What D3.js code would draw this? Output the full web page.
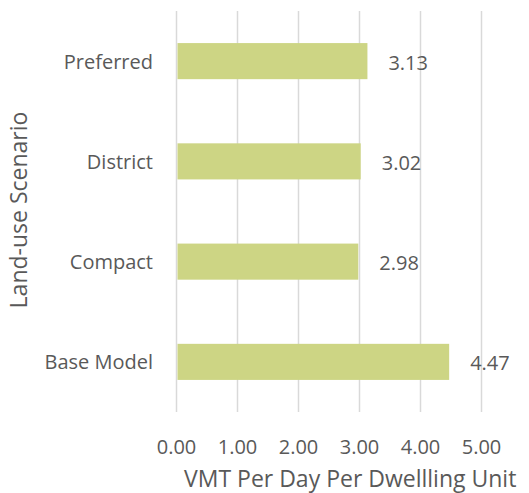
<!DOCTYPE html>
<html>
<head>
<meta charset="utf-8">
<script src="https://cdn.jsdelivr.net/npm/d3@7"></script>
<style>
    body { margin: 0; background: #fff; }
    text { font-family: "Open Sans", sans-serif; fill: #595959; }
</style>
</head>
<body>
<div id="chart"></div>
<script>
var scenarios = ["Preferred", "District", "Compact", "Base Model"];
var vmtValues = [3.13, 3.02, 2.98, 4.47];
var tickValues = [0, 1, 2, 3, 4, 5];

var width = 529,
    height = 493;

var svg = d3.select("#chart")
    .append("svg")
    .attr("width", width)
    .attr("height", height);

var x = d3.scaleLinear()
    .domain([0, 5])
    .range([176.5, 481.5]);

var y = d3.scaleBand()
    .domain(scenarios)
    .range([11, 412])
    .paddingInner(0.64)
    .paddingOuter(0.32);

// gridlines
svg.append("g")
    .selectAll("line")
    .data(tickValues)
    .enter().append("line")
    .attr("x1", function (d) { return x(d); })
    .attr("x2", function (d) { return x(d); })
    .attr("y1", 11)
    .attr("y2", 412)
    .attr("stroke", "#d9d9d9")
    .attr("stroke-width", 1.5);

var data = scenarios.map(function (s, i) {
    return { name: s, v: vmtValues[i] };
});

svg.append("g")
    .selectAll("rect")
    .data(data)
    .enter().append("rect")
    .attr("x", x(0) + 1)
    .attr("y", function (d) { return y(d.name); })
    .attr("width", function (d) { return x(d.v) - x(0) - 1; })
    .attr("height", y.bandwidth())
    .attr("fill", "#cdd584");

// value labels
svg.append("g")
    .selectAll("text")
    .data(data)
    .enter().append("text")
    .attr("x", function (d) { return x(d.v) + 21; })
    .attr("y", function (d) { return y(d.name) + y.bandwidth() / 2 + 8.5; })
    .attr("font-size", "20px")
    .text(function (d) { return d.v.toFixed(2); });

// category labels
svg.append("g")
    .selectAll("text")
    .data(scenarios)
    .enter().append("text")
    .attr("x", 153)
    .attr("y", function (d) { return y(d) + y.bandwidth() / 2 + 7.5; })
    .attr("text-anchor", "end")
    .attr("font-size", "20px")
    .text(function (d) { return d; });

// x tick labels
svg.append("g")
    .selectAll("text")
    .data(tickValues)
    .enter().append("text")
    .attr("x", function (d) { return x(d); })
    .attr("y", 454)
    .attr("text-anchor", "middle")
    .attr("font-size", "20px")
    .text(function (d) { return d.toFixed(2); });

svg.append("text")
    .attr("x", 184)
    .attr("y", 487)
    .attr("font-size", "23px")
    .text("VMT Per Day Per Dwellling Unit");

svg.append("text")
    .attr("transform", "translate(27,210) rotate(-90)")
    .attr("text-anchor", "middle")
    .attr("font-size", "23px")
    .text("Land-use Scenario");
</script>
</body>
</html>
